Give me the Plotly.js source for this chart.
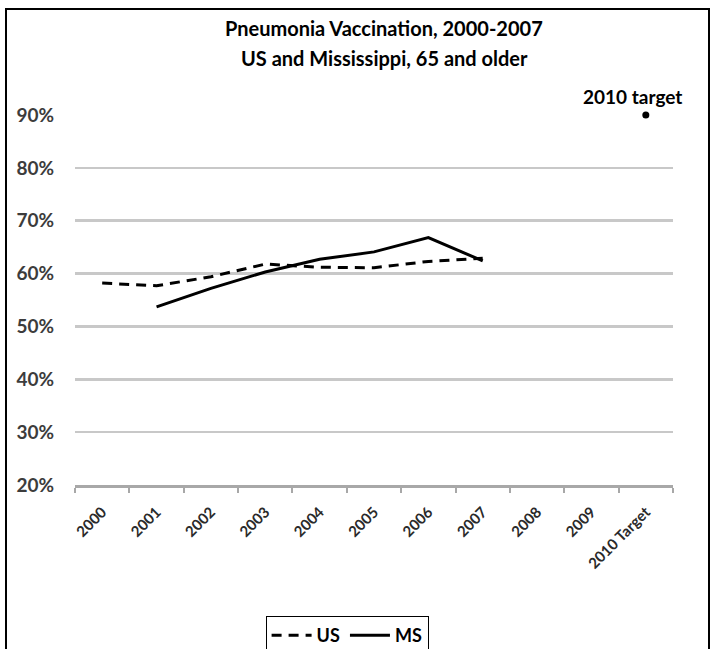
<!DOCTYPE html>
<html>
<head>
<meta charset="utf-8">
<script src="https://cdn.plot.ly/plotly-3.0.1.min.js"></script>
<style>
  html, body { margin: 0; padding: 0; background: #fff; }
  #wrap { position: relative; width: 711px; height: 649px; overflow: hidden; }
  #chart { position: absolute; left: 0; top: 0; width: 711px; height: 649px; }
  #frame { position: absolute; left: 5px; top: 8px; width: 701px; height: 660px; border: 2px solid #000; pointer-events: none; }
</style>
</head>
<body>
<div id="wrap">
  <div id="chart"></div>
  <div id="frame"></div>
</div>
<script>
const categories = ["2000","2001","2002","2003","2004","2005","2006","2007","2008","2009","2010 Target"];
const usValues = [0.582, 0.577, 0.594, 0.618, 0.612, 0.611, 0.623, 0.629, null, null, null];
const msValues = [null, 0.537, 0.572, 0.603, 0.627, 0.641, 0.668, 0.624, null, null, null];
const targetCategory = ["2010 Target"];
const targetValue = [0.90];
const yTicks = [0.2, 0.3, 0.4, 0.5, 0.6, 0.7, 0.8, 0.9];
const yTickLabels = ["20%","30%","40%","50%","60%","70%","80%","90%"];
const titleLines = ["Pneumonia Vaccination, 2000-2007", "US and Mississippi, 65 and older"];

const FONT = "Lato, 'Open Sans', sans-serif";

const traces = [
  {
    x: categories, y: usValues, name: "US", type: "scatter", mode: "lines",
    line: { color: "#000", width: 3, dash: "10px,7px" }, connectgaps: false
  },
  {
    x: categories, y: msValues, name: "MS", type: "scatter", mode: "lines",
    line: { color: "#000", width: 3 }, connectgaps: false
  },
  {
    x: targetCategory, y: targetValue, name: "2010 target", type: "scatter", mode: "markers",
    marker: { color: "#000", size: 7 }, showlegend: false, cliponaxis: false
  }
];

const layout = {
  width: 711, height: 649,
  margin: { l: 75, r: 38, t: 115, b: 164, autoexpand: false },
  paper_bgcolor: "#fff", plot_bgcolor: "#fff",
  font: { family: FONT, color: "#404040" },
  xaxis: {
    type: "category", categoryorder: "array", categoryarray: categories,
    range: [-0.5, 10.5],
    tickangle: -45, tickfont: { family: FONT, size: 15, color: "#2a2a2a", weight: "bold" },
    ticks: "outside", tickson: "boundaries", ticklen: 5, tickcolor: "#a8a8a8", tickwidth: 2,
    ticklabelstandoff: 10,
    showline: true, linecolor: "#a8a8a8", linewidth: 2.5,
    showgrid: false, zeroline: false, fixedrange: true, automargin: false
  },
  yaxis: {
    range: [0.2, 0.9], tickvals: yTicks, ticktext: yTickLabels,
    tickfont: { family: FONT, size: 19, color: "#3c3c3c", weight: "bold" },
    showgrid: true, gridcolor: "#c8c8c8", gridwidth: 2.5,
    showline: false, zeroline: false, ticks: "", ticklabelstandoff: 20, fixedrange: true, automargin: false
  },
  showlegend: true,
  legend: {
    orientation: "h", x: 0.455, xanchor: "center", y: -0.354, yanchor: "top",
    bordercolor: "#000", borderwidth: 1, bgcolor: "#fff",
    font: { family: FONT, size: 18, color: "#000", weight: "bold" },
    itemwidth: 40, traceorder: "normal", valign: "middle"
  },
  annotations: [
    {
      text: "<b>" + titleLines[0] + "</b>", x: 0.517, y: 1.235, xref: "paper", yref: "paper",
      xanchor: "center", yanchor: "middle", showarrow: false,
      font: { family: FONT, size: 20, color: "#000" }
    },
    {
      text: "<b>" + titleLines[1] + "</b>", x: 0.517, y: 1.154, xref: "paper", yref: "paper",
      xanchor: "center", yanchor: "middle", showarrow: false,
      font: { family: FONT, size: 20, color: "#000" }
    },
    {
      text: "<b>2010 target</b>", x: "2010 Target", y: 0.9, xref: "x", yref: "y",
      showarrow: false, yanchor: "bottom", yshift: 5, xshift: -13,
      font: { family: FONT, size: 19, color: "#000" }
    }
  ]
};

Plotly.newPlot("chart", traces, layout, { displayModeBar: false, staticPlot: true });
</script>
</body>
</html>
